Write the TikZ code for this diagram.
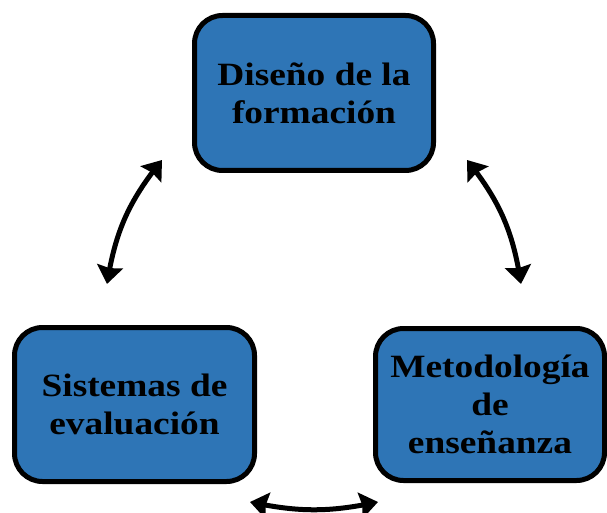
\documentclass[tikz,border=0pt]{standalone}
\usepackage{fontspec}
\setmainfont{Liberation Serif}[FakeStretch=1.15]
\usetikzlibrary{arrows.meta,bending}
\definecolor{boxblue}{RGB}{46,117,182}
\begin{document}
\begin{tikzpicture}[x=1pt,y=-1pt,
  box/.style={draw=black, line width=5pt, fill=boxblue, rounded corners=28pt,
    font=\bfseries\fontsize{32.5}{38}\selectfont, align=center, inner sep=0pt},
  link/.style={line width=5pt,
    {Stealth[length=18pt,width=26pt,inset=2pt]}-{Stealth[length=18pt,width=26pt,inset=2pt]}}]
\useasboundingbox (0,0) rectangle (607,513);
\node[box, minimum width=239pt, minimum height=155pt] (dis) at (314,93) {Diseño de la\\formación};
\node[box, minimum width=240pt, minimum height=154pt] (eva) at (134.5,404.5) {Sistemas de\\evaluación};
\node[box, minimum width=229pt, minimum height=152pt] (met) at (490,404.5) {Metodología\\de\\enseñanza};
\coordinate (l1) at (107,284);
\coordinate (l2) at (162,160);
\coordinate (r1) at (467,160);
\coordinate (r2) at (521,284);
\coordinate (b1) at (250,502);
\coordinate (b2) at (378,502);
\draw[link] (l1) to[bend left=15] (l2);
\draw[link] (r1) to[bend left=15] (r2);
\draw[link] (b1) to[bend right=12] (b2);
\end{tikzpicture}
\end{document}
